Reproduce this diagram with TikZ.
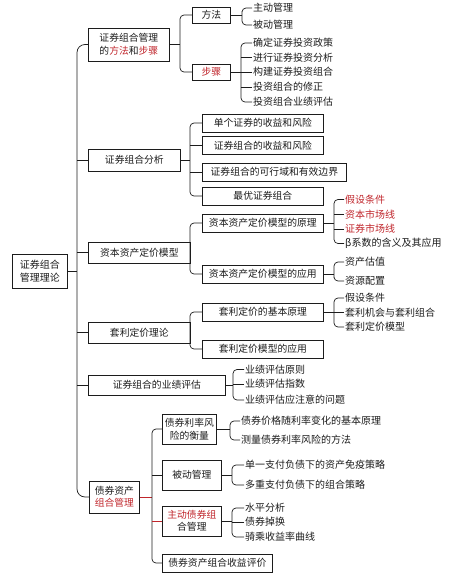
\documentclass[tikz,border=0pt]{standalone}
\usepackage{fontspec}
\setmainfont{Noto Sans CJK SC}
\usetikzlibrary{calc}
\definecolor{ink}{HTML}{1C1C1C}
\definecolor{hl}{HTML}{C0262C}
\newcommand{\boxfont}{\fontsize{9.8}{12.5}\selectfont}
\newcommand{\leaffont}{\fontsize{10}{12}\selectfont}

\begin{document}
\begin{tikzpicture}[x=1pt,y=-1pt,font=\boxfont,
  card/.style={draw=ink,line width=0.75pt,anchor=west,inner sep=0,align=center,text=ink,minimum height=18pt},
  leaf/.style={anchor=west,inner sep=1pt,text=ink,font=\leaffont},
  link/.style={ink,line width=0.7pt},
  brace/.style={link,rounded corners=4pt}]
\useasboundingbox (0,0) rectangle (456,579);
% root and first level
\node[card,minimum width=55pt,minimum height=34pt,font=\fontsize{10}{12.5}\selectfont] (root) at (12,271) {证券组合\\管理理论};
\node[card,minimum width=81pt,minimum height=33pt,font=\fontsize{9.8}{13}\selectfont] (m1) at (88,44.5) {证券组合管理\\的{\color{hl}方法}和{\color{hl}步骤}};
\node[card,minimum width=92pt,minimum height=22pt] (m2) at (88,160) {证券组合分析};
\node[card,minimum width=102pt,minimum height=21pt] (m3) at (88,252.5) {资本资产定价模型};
\node[card,minimum width=102pt,minimum height=21pt] (m4) at (88,332.5) {套利定价理论};
\node[card,minimum width=137pt,minimum height=20pt] (m5) at (88,385) {证券组合的业绩评估};
\node[card,minimum width=50pt,minimum height=32pt] (m6) at (89,497) {债券资产\\{\color{hl}组合管理}};
\coordinate (bus) at (77,271);
\draw[link,rounded corners=8pt] (m1.west) -| (bus) |- (m6.west);
\draw[link] (root.east) -- (bus);
\foreach \n in {m2,m3,m4,m5} \draw[link] (\n.west) -- (\n.west -| bus);
% methods and steps
\node[card,minimum width=38pt,minimum height=16pt] (fa) at (192,15) {方法};
\node[card,minimum width=38pt,minimum height=16pt] (bz) at (192,72) {\color{hl}步骤};
\coordinate (fork1) at (180,44.5);
\draw[link] (m1.east) -- (fork1);
\draw[brace] (fa.west) -| (fork1) |- (bz.west);
\node[leaf] (fa1) at (252,8) {主动管理};
\node[leaf] (fa2) at (252,25) {被动管理};
\coordinate (forkfa) at (242,15);
\draw[link] (fa.east) -- (forkfa);
\draw[brace] (fa1.west) -| (forkfa) |- (fa2.west);
\node[leaf] (bz1) at (252,43) {确定证券投资政策};
\node[leaf] (bz2) at (252,57.5) {进行证券投资分析};
\node[leaf] (bz3) at (252,72) {构建证券投资组合};
\node[leaf] (bz4) at (252,87) {投资组合的修正};
\node[leaf] (bz5) at (252,102) {投资组合业绩评估};
\coordinate (forkbz) at (241,72);
\draw[link] (bz.east) -- (forkbz);
\draw[brace] (bz1.west) -| (forkbz) |- (bz5.west);
\foreach \n in {bz2,bz3,bz4} \draw[link] (\n.west) -- (\n.west -| forkbz);
% portfolio analysis
\node[card,minimum width=121pt] (a1) at (202,123) {单个证券的收益和风险};
\node[card,minimum width=121pt] (a2) at (202,145.5) {证券组合的收益和风险};
\node[card,minimum width=144pt] (a3) at (202,172) {证券组合的可行域和有效边界};
\node[card,minimum width=121pt] (a4) at (202,196) {最优证券组合};
\coordinate (fork2) at (190,160);
\draw[link] (m2.east) -- (fork2);
\draw[brace] (a1.west) -| (fork2) |- (a4.west);
\foreach \n in {a2,a3} \draw[link] (\n.west) -- (\n.west -| fork2);
% CAPM
\node[card,minimum width=121pt] (c1) at (202,223) {资本资产定价模型的原理};
\node[card,minimum width=121pt] (c2) at (202,274) {资本资产定价模型的应用};
\coordinate (fork3) at (190,252.5);
\draw[link] (m3.east) -- (fork3);
\draw[brace] (c1.west) -| (fork3) |- (c2.west);
\node[leaf,text=hl] (c11) at (344,199.5) {假设条件};
\node[leaf,text=hl] (c12) at (344,214.5) {资本市场线};
\node[leaf,text=hl] (c13) at (344,229) {证券市场线};
\node[leaf] (c14) at (344,243.5) {β系数的含义及其应用};
\coordinate (forkc1) at (334,223);
\draw[link] (c1.east) -- (forkc1);
\draw[brace] (c11.west) -| (forkc1) |- (c14.west);
\foreach \n in {c12,c13} \draw[link] (\n.west) -- (\n.west -| forkc1);
\node[leaf] (c21) at (344,262) {资产估值};
\node[leaf] (c22) at (344,281) {资源配置};
\coordinate (forkc2) at (334,274);
\draw[link] (c2.east) -- (forkc2);
\draw[brace] (c21.west) -| (forkc2) |- (c22.west);
% APT
\node[card,minimum width=121pt] (d1) at (202,312) {套利定价的基本原理};
\node[card,minimum width=121pt] (d2) at (202,349) {套利定价模型的应用};
\coordinate (fork4) at (190,332.5);
\draw[link] (m4.east) -- (fork4);
\draw[brace] (d1.west) -| (fork4) |- (d2.west);
\node[leaf] (d11) at (344,298) {假设条件};
\node[leaf] (d12) at (344,312.5) {套利机会与套利组合};
\node[leaf] (d13) at (344,327) {套利定价模型};
\coordinate (forkd1) at (334,312);
\draw[link] (d1.east) -- (forkd1);
\draw[brace] (d11.west) -| (forkd1) |- (d13.west);
\draw[link] (d12.west) -- (d12.west -| forkd1);
% performance evaluation
\node[leaf] (e1) at (244,369.5) {业绩评估原则};
\node[leaf] (e2) at (244,384) {业绩评估指数};
\node[leaf] (e3) at (244,400) {业绩评估应注意的问题};
\coordinate (fork5) at (233,385);
\draw[link] (m5.east) -- (fork5);
\draw[brace] (e1.west) -| (fork5) |- (e3.west);
\draw[link] (e2.west) -- (e2.west -| fork5);
% bond portfolio management
\node[card,minimum width=54pt,minimum height=30pt] (n1) at (162,429) {债券利率风\\险的衡量};
\node[card,minimum width=59pt,minimum height=30pt] (n2) at (162,475) {被动管理};
\node[card,minimum width=59pt,minimum height=30pt] (n3) at (162,521) {{\color{hl}主动债券组}\\合管理};
\node[card,minimum width=110pt] (n4) at (162,563) {债券资产组合收益评价};
\coordinate (fork6) at (152,497);
\draw[link,hl] (m6.east) -- (fork6);
\draw[brace] (n1.west) -| (fork6) |- (n4.west);
\draw[link] (n2.west) -- (n2.west -| fork6);
\draw[link,hl] (n3.west) -- (n3.west -| fork6);
\node[leaf] (n11) at (240,421) {债券价格随利率变化的基本原理};
\node[leaf] (n12) at (240,440) {测量债券利率风险的方法};
\coordinate (forkn1) at (230,429);
\draw[link] (n1.east) -- (forkn1);
\draw[brace] (n11.west) -| (forkn1) |- (n12.west);
\node[leaf] (n21) at (244,465) {单一支付负债下的资产免疫策略};
\node[leaf] (n22) at (244,485) {多重支付负债下的组合策略};
\coordinate (forkn2) at (232,475);
\draw[link] (n2.east) -- (forkn2);
\draw[brace] (n21.west) -| (forkn2) |- (n22.west);
\node[leaf] (n31) at (244,508) {水平分析};
\node[leaf] (n32) at (244,522) {债券掉换};
\node[leaf] (n33) at (244,537) {骑乘收益率曲线};
\coordinate (forkn3) at (232,521);
\draw[link] (n3.east) -- (forkn3);
\draw[brace] (n31.west) -| (forkn3) |- (n33.west);
\draw[link] (n32.west) -- (n32.west -| forkn3);
\end{tikzpicture}
\end{document}
